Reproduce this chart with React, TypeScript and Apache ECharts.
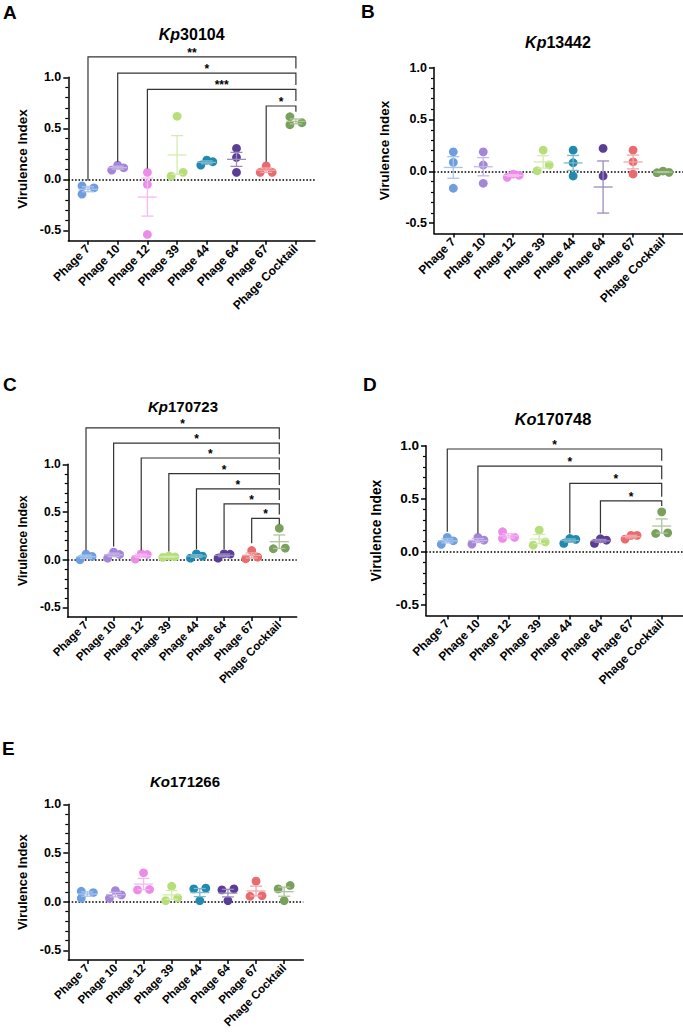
import React, { useEffect, useRef } from 'react';
import * as echarts from 'echarts';

// ---------------- DATA ----------------
const categories = ['Phage 7', 'Phage 10', 'Phage 12', 'Phage 39', 'Phage 44', 'Phage 64', 'Phage 67', 'Phage Cocktail'];
const yTickValues = [-0.5, 0, 0.5, 1.0];
const yMinorTickValues = [-0.4, -0.3, -0.2, -0.1, 0.1, 0.2, 0.3, 0.4, 0.6, 0.7, 0.8, 0.9];
const xTickValues = [0, 1, 2, 3, 4, 5, 6, 7];
const Y_MIN = -0.6;
const Y_MAX = 1.0;

const groupColors = ['#6f9ee0', '#a386d8', '#ec8ce8', '#b6df7a', '#2188ae', '#5b3d96', '#e86c6f', '#79a05c'];

// three replicate values per phage
const kp30104 = [
  [-0.063, -0.144, -0.082], [0.091, 0.14, 0.114], [0.069, -0.049, -0.539], [0.618, 0.032, 0.069],
  [0.14, 0.189, 0.173], [0.304, 0.216, 0.069], [0.069, 0.133, 0.069], [0.614, 0.535, 0.555],
];
const kp13442 = [
  [0.188, 0.087, -0.163], [0.188, 0.061, -0.115], [-0.058, -0.026, -0.038], [0.205, 0.006, 0.061],
  [0.205, 0.083, -0.045], [0.221, -0.045, -0.629], [0.205, 0.092, -0.026], [-0.013, 0.003, -0.01],
];
const kp170723 = [
  [0.0, 0.059, 0.035], [0.017, 0.08, 0.055], [0.007, 0.062, 0.055], [0.025, 0.038, 0.031],
  [0.017, 0.062, 0.038], [0.017, 0.062, 0.058], [0.01, 0.097, 0.028], [0.33, 0.115, 0.122],
];
const ko170748 = [
  [0.07, 0.136, 0.104], [0.073, 0.136, 0.11], [0.189, 0.126, 0.136], [0.205, 0.063, 0.094],
  [0.079, 0.126, 0.117], [0.079, 0.123, 0.11], [0.12, 0.155, 0.155], [0.377, 0.173, 0.179],
];
const ko171266 = [
  [0.107, 0.034, 0.093], [0.113, 0.034, 0.069], [0.296, 0.12, 0.125], [0.158, 0.01, 0.038],
  [0.138, 0.01, 0.131], [0.131, 0.01, 0.121], [0.21, 0.055, 0.062], [0.166, 0.131, 0.01],
];

// significance comparisons: [leftGroup, rightGroup, bracketLevel, leftLegEnd, rightLegEnd]
const sigKp30104 = [[0, 7, 1.2, -0.01, 1.085], [1, 7, 1.04, 0.173, 0.925], [2, 7, 0.882, 0.108, 0.768], [6, 7, 0.719, 0.173, 0.663]];
const sigKp30104Labels = ['**', '*', '***', '*'];
const sigKp13442: number[][] = [];
const sigKp13442Labels: string[] = [];
const sigKp170723 = [
  [0, 7, 1.382, 0.1, 1.262], [1, 7, 1.222, 0.14, 1.106], [2, 7, 1.066, 0.1, 0.943], [3, 7, 0.903, 0.087, 0.783],
  [4, 7, 0.743, 0.109, 0.626], [5, 7, 0.586, 0.109, 0.474], [6, 7, 0.434, 0.172, 0.372],
];
const sigKp170723Labels = ['*', '*', '*', '*', '*', '*', '*'];
const sigKo170748 = [[0, 7, 0.969, 0.189, 0.858], [1, 7, 0.808, 0.173, 0.683], [4, 7, 0.645, 0.173, 0.519], [5, 7, 0.481, 0.173, 0.431]];
const sigKo170748Labels = ['*', '*', '*', '*'];
const sigKo171266: number[][] = [];
const sigKo171266Labels: string[] = [];

const panelLetters = ['A', 'B', 'C', 'D', 'E'];
const strainPrefix = ['Kp', 'Kp', 'Kp', 'Ko', 'Ko'];
const strainNumber = ['30104', '13442', '170723', '170748', '171266'];
const yAxisName = 'Virulence Index';

// ---------------- LAYOUT (positions / sizes only) ----------------
const FONT = '"Liberation Sans", Arial, Helvetica, sans-serif';
const layout = [
  { left: 68.3, top: 77.3, width: 246.7, height: 163.4, xMin: -0.663, xMax: 7.643, lx: 3, ly: 12, tx: 191.7, ty: 34, tSize: 16, aSize: 12.5, nSize: 13.5, nGap: 39, xSize: 12 },
  { left: 434, top: 67.6, width: 249, height: 166, xMin: -0.644, xMax: 7.667, lx: 361, ly: 11, tx: 558, ty: 42.5, tSize: 16, aSize: 12.5, nSize: 13.5, nGap: 43, xSize: 12 },
  { left: 67.7, top: 464.3, width: 229, height: 152.7, xMin: -0.663, xMax: 7.63, lx: 3, ly: 384, tx: 183, ty: 406, tSize: 15, aSize: 12, nSize: 12.3, nGap: 39, xSize: 11.5 },
  { left: 426, top: 445.7, width: 257, height: 169.8, xMin: -0.695, xMax: 7.695, lx: 363, ly: 384, tx: 553, ty: 419, tSize: 16.4, aSize: 13.5, nSize: 13.8, nGap: 43, xSize: 12 },
  { left: 68.3, top: 804.3, width: 235, height: 155.7, xMin: -0.675, xMax: 7.68, lx: 2, ly: 748, tx: 185, ty: 781, tSize: 15, aSize: 12.5, nSize: 13, nGap: 39.5, xSize: 11.5 },
];

function tint(hex: string, t: number) {
  const n = parseInt(hex.slice(1), 16);
  const r = (n >> 16) & 255, g = (n >> 8) & 255, b = n & 255;
  const m = (c: number) => Math.round(c + (255 - c) * t);
  return `rgb(${m(r)},${m(g)},${m(b)})`;
}

// horizontal spreading of overlapping points (GraphPad-like)
function spread(py: number[]): number[] {
  const S = 6, T1 = 5.45, T2 = 6.4;
  const order = py.map((_, k) => k).sort((a, b) => py[b] - py[a]); // lowest value first
  const rows: number[][] = [];
  order.forEach((k) => {
    const last = rows[rows.length - 1];
    if (last && Math.abs(py[last[last.length - 1]] - py[k]) < T1) last.push(k);
    else rows.push([k]);
  });
  const off = py.map(() => 0);
  rows.forEach((r) => {
    if (r.length === 2) { off[r[0]] = -S; off[r[1]] = S; }
    else if (r.length >= 3) { off[r[0]] = -S; off[r[r.length - 1]] = 0; off[r[1]] = S; }
  });
  const singles = rows.filter((r) => r.length === 1).map((r) => r[0]);
  singles.forEach((s) => {
    rows.forEach((r) => {
      if (r.length === 2 && r.some((k) => Math.abs(py[k] - py[s]) < T2)) {
        const [a, b] = r;
        const far = Math.abs(py[a] - py[s]) > Math.abs(py[b] - py[s]) ? a : b;
        const near = far === a ? b : a;
        off[far] = -S; off[near] = S; off[s] = -S;
      }
    });
  });
  for (let q = 0; q < singles.length - 1; q++) {
    const a = singles[q], b = singles[q + 1];
    if (off[a] === 0 && off[b] === 0 && Math.abs(py[a] - py[b]) < T2) { off[a] = -S; off[b] = S; }
  }
  return off;
}

const panels = [
  { data: kp30104, sig: sigKp30104, sigLabels: sigKp30104Labels },
  { data: kp13442, sig: sigKp13442, sigLabels: sigKp13442Labels },
  { data: kp170723, sig: sigKp170723, sigLabels: sigKp170723Labels },
  { data: ko170748, sig: sigKo170748, sigLabels: sigKo170748Labels },
  { data: ko171266, sig: sigKo171266, sigLabels: sigKo171266Labels },
];

function buildOption() {
  const grid: any[] = [], xAxis: any[] = [], yAxis: any[] = [], series: any[] = [], graphic: any[] = [];
  panels.forEach((p, pi) => {
    const L = layout[pi];
    grid.push({ left: L.left, top: L.top, width: L.width, height: L.height, containLabel: false });
    const axisLineStyle = { color: '#000', width: 1.5 };
    xAxis.push({
      gridIndex: pi, type: 'value', min: L.xMin, max: L.xMax,
      axisLine: { show: true, onZero: false, lineStyle: axisLineStyle },
      axisTick: { show: true, length: 4, customValues: xTickValues, lineStyle: axisLineStyle },
      axisLabel: {
        customValues: xTickValues, rotate: 45, margin: 6,
        formatter: (v: number) => categories[Math.round(v)] ?? '',
        fontFamily: FONT, fontWeight: 'bold', fontSize: L.xSize, color: '#000',
      },
      splitLine: { show: false },
    });
    yAxis.push({
      gridIndex: pi, type: 'value', min: Y_MIN, max: Y_MAX, position: 'left',
      axisLine: { show: true, onZero: false, lineStyle: axisLineStyle },
      axisTick: { show: true, length: 5, customValues: yTickValues, lineStyle: axisLineStyle },
      axisLabel: {
        customValues: yTickValues, margin: 7,
        formatter: (v: number) => v.toFixed(1),
        fontFamily: FONT, fontWeight: 'bold', fontSize: L.aSize, color: '#000',
      },
      splitLine: { show: false },
      name: yAxisName, nameLocation: 'middle', nameGap: L.nGap,
      nameTextStyle: { fontFamily: FONT, fontWeight: 'bold', fontSize: L.nSize, color: '#000' },
    });
    yAxis.push({
      gridIndex: pi, type: 'value', min: Y_MIN, max: Y_MAX, position: 'left', offset: 0,
      axisLine: { show: false, onZero: false },
      axisTick: { show: true, length: 3, customValues: yMinorTickValues, lineStyle: { color: '#000', width: 1.2 } },
      axisLabel: { show: false },
      splitLine: { show: false },
    });

    const groupData = p.data.map((vals, i) => [i, ...vals]);
    series.push({
      type: 'custom', xAxisIndex: pi, yAxisIndex: pi * 2, z: 3,
      data: groupData,
      encode: { x: 0, y: [1, 2, 3] },
      renderItem: (params: any, api: any) => {
        const i = api.value(0);
        const vals = [api.value(1), api.value(2), api.value(3)];
        const cx = api.coord([i, 0])[0];
        const py = vals.map((v: number) => api.coord([i, v])[1]);
        const off = spread(py);
        const n = vals.length;
        const mean = vals.reduce((s: number, v: number) => s + v, 0) / n;
        const sd = Math.sqrt(vals.reduce((s: number, v: number) => s + (v - mean) ** 2, 0) / (n - 1));
        const sem = sd / Math.sqrt(n);
        const color = groupColors[i];
        const light = tint(color, 0.4);
        const children: any[] = [];
        vals.forEach((v: number, k: number) => {
          if (v < Y_MIN || v > Y_MAX) return;
          children.push({ type: 'circle', shape: { cx: cx + off[k], cy: py[k], r: 4.4 }, style: { fill: color } });
        });
        const ym = api.coord([i, mean])[1];
        const yHi = api.coord([i, mean + sem])[1];
        const yLo = api.coord([i, Math.max(Y_MIN, mean - sem)])[1];
        const ls = { stroke: light, lineWidth: 1.3, fill: 'none' };
        children.push({ type: 'line', shape: { x1: cx, y1: yHi, x2: cx, y2: yLo }, style: ls });
        children.push({ type: 'line', shape: { x1: cx - 9.5, y1: ym, x2: cx + 9.5, y2: ym }, style: ls });
        children.push({ type: 'line', shape: { x1: cx - 6, y1: yHi, x2: cx + 6, y2: yHi }, style: ls });
        if (mean - sem >= Y_MIN) children.push({ type: 'line', shape: { x1: cx - 6, y1: yLo, x2: cx + 6, y2: yLo }, style: ls });
        return { type: 'group', children };
      },
      markLine: {
        silent: true, symbol: 'none', z: 1,
        label: { show: false },
        lineStyle: { color: '#000', width: 1.5, type: [1.6, 1.8] },
        data: [{ yAxis: 0 }],
      },
    });

    if (p.sig.length) {
      const labels = p.sigLabels;
      series.push({
        type: 'custom', xAxisIndex: pi, yAxisIndex: pi * 2, z: 4, clip: false,
        data: p.sig,
        encode: { x: [0, 1], y: [2, 3, 4] },
        renderItem: (params: any, api: any) => {
          const l = api.value(0), r = api.value(1), lev = api.value(2), le = api.value(3), re = api.value(4);
          const [xl, yl] = api.coord([l, lev]);
          const xr = api.coord([r, lev])[0];
          const yle = api.coord([l, le])[1];
          const yre = api.coord([r, re])[1];
          return {
            type: 'group',
            children: [
              { type: 'polyline', shape: { points: [[xl, yle], [xl, yl], [xr, yl], [xr, yre]] }, style: { stroke: '#333', lineWidth: 1.2, fill: 'none' } },
              {
                type: 'text',
                style: {
                  text: labels[params.dataIndex], x: (xl + xr) / 2, y: yl + 2,
                  textAlign: 'center', textVerticalAlign: 'bottom',
                  font: `bold 12px ${FONT}`, fill: '#000',
                },
              },
            ],
          };
        },
      });
    }

    graphic.push({
      type: 'text', x: L.lx, y: L.ly,
      style: { text: panelLetters[pi], font: `bold 19px ${FONT}`, fill: '#000', textAlign: 'left', textVerticalAlign: 'middle' },
    });
    graphic.push({
      type: 'text', x: L.tx, y: L.ty,
      style: {
        text: `{i|${strainPrefix[pi]}}{n|${strainNumber[pi]}}`,
        textAlign: 'center', textVerticalAlign: 'middle',
        rich: {
          i: { fontStyle: 'italic', fontWeight: 'bold', fontSize: L.tSize, fontFamily: FONT, color: '#000' },
          n: { fontWeight: 'bold', fontSize: L.tSize, fontFamily: FONT, color: '#000' },
        },
      },
    });
  });
  return { animation: false, backgroundColor: '#fff', grid, xAxis, yAxis, series, graphic };
}

export default function App() {
  const ref = useRef<HTMLDivElement>(null);
  useEffect(() => {
    if (!ref.current) return;
    const chart = echarts.init(ref.current, undefined, { renderer: 'svg' });
    chart.setOption(buildOption() as any);
    return () => chart.dispose();
  }, []);
  return <div ref={ref} style={{ position: 'absolute', left: 0, top: 0, width: 683, height: 1034, background: '#fff' }} />;
}
